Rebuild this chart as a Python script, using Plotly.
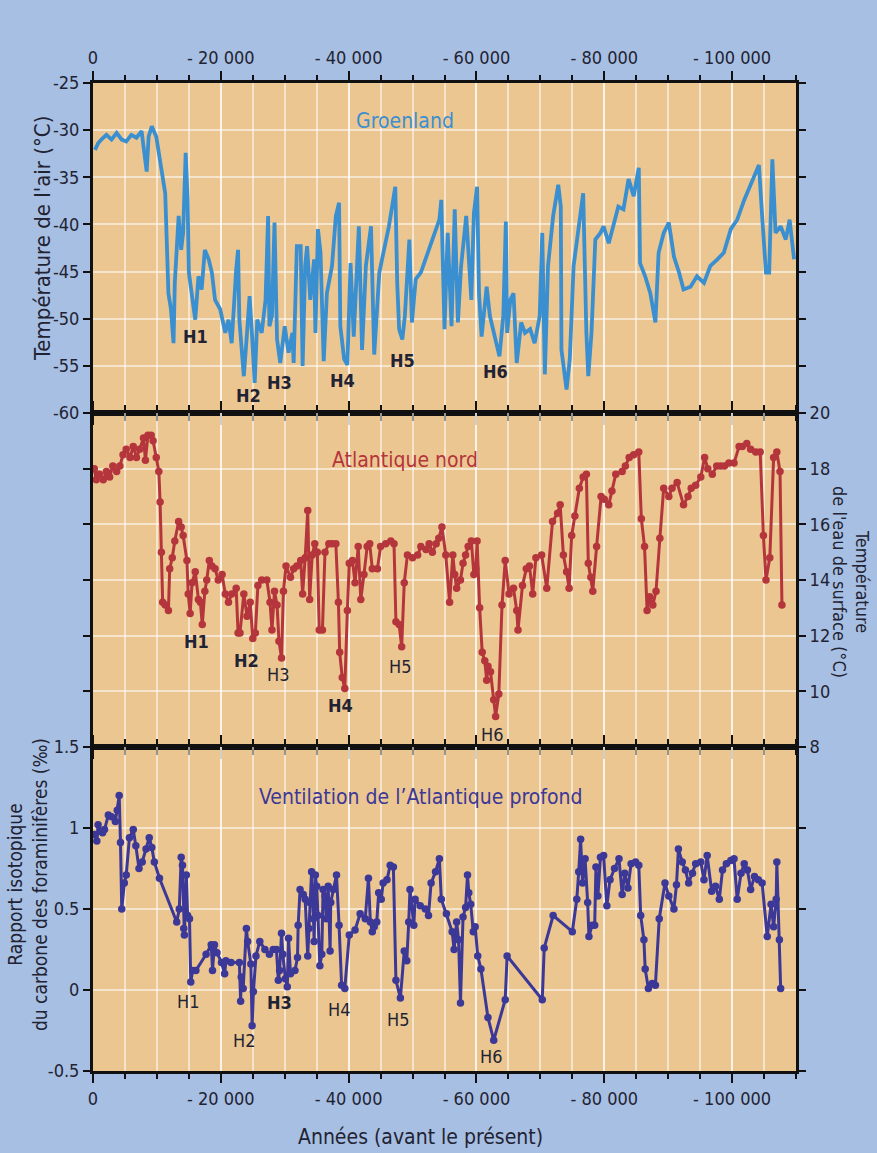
import plotly.graph_objects as go

# ---------------- data (years before present in thousands) ----------------
groen_age = [0.3, 0.8, 1.3, 2.1, 2.9, 3.7, 4.5, 5.2, 6.0, 6.8, 7.6, 8.4, 8.7, 9.2, 9.9, 10.7, 11.3, 11.5, 11.8, 12.2,
             12.6, 12.8, 13.4, 13.8, 14.1, 14.5, 14.8, 15.0, 15.4, 16.0, 16.5, 17.0, 17.5, 18.1, 18.6, 19.1, 19.9, 20.7,
             21.2, 21.7, 22.4, 22.7, 22.9, 23.6, 24.1, 24.5, 24.9, 25.3, 25.7, 26.4, 27.0, 27.4, 27.6, 28.0, 28.4, 28.8,
             29.3, 30.0, 30.6, 31.2, 31.4, 31.9, 32.5, 32.8, 33.2, 33.5, 34.0, 34.6, 34.8, 35.2, 35.6, 36.1, 36.6, 37.4,
             38.0, 38.5, 38.7, 39.3, 39.8, 40.3, 40.8, 41.6, 42.1, 42.7, 43.5, 44.0, 44.8, 45.5, 46.3, 47.3, 47.6, 47.9,
             48.4, 48.8, 49.5, 49.9, 50.5, 51.3, 52.4, 54.2, 54.5, 55.0, 55.5, 56.1, 56.6, 57.1, 57.6, 58.4, 59.2, 59.6,
             60.1, 60.4, 60.8, 61.6, 62.1, 62.9, 63.6, 64.2, 64.6, 64.8, 65.3, 65.8, 66.3, 67.0, 67.6, 68.4, 69.1, 69.9,
             70.3, 70.7, 71.2, 72.0, 72.8, 73.2, 73.3, 74.1, 74.6, 75.2, 75.9, 76.7, 77.2, 77.5, 78.0, 78.6, 79.4, 79.9,
             80.7, 81.4, 82.2, 83.0, 83.8, 84.6, 85.4, 85.6, 86.4, 87.2, 88.0, 88.5, 89.3, 90.1, 90.9, 91.7, 92.4, 93.5,
             94.5, 95.6, 96.6, 97.7, 98.7, 99.8, 100.8, 101.9, 103.2, 104.2, 104.7, 105.3, 105.8, 106.3, 106.8, 107.6,
             108.4, 109.0, 109.7]
groen_temp = [-32.1, -31.4, -31.0, -30.5, -31.0, -30.3, -31.0, -31.2, -30.5, -30.8, -30.1, -34.4, -30.7, -29.6, -30.7,
              -34.5, -36.7, -40.9, -47.3, -49.0, -52.6, -46.2, -39.1, -42.7, -40.9, -32.4, -37.4, -45.1, -46.9, -50.1,
              -45.5, -46.9, -42.7, -43.7, -45.1, -48.0, -49.0, -51.5, -50.1, -52.6, -44.8, -42.7, -50.1, -56.1, -51.5,
              -47.6, -51.9, -56.8, -50.1, -51.5, -48.0, -39.1, -50.8, -49.7, -39.8, -52.2, -54.7, -50.8, -53.6, -51.5,
              -54.7, -42.3, -42.3, -55.0, -44.4, -42.3, -48.0, -43.7, -51.5, -40.5, -43.0, -54.5, -47.3, -44.4, -39.1,
              -37.7, -50.8, -54.3, -54.9, -44.1, -51.9, -40.2, -53.3, -44.4, -40.2, -53.8, -45.1, -43.0, -40.2, -36.0,
              -46.2, -51.1, -52.2, -49.7, -41.6, -50.4, -45.8, -45.1, -43.0, -39.5, -37.4, -51.1, -40.9, -50.8, -38.4,
              -50.4, -44.4, -39.1, -48.0, -38.8, -36.0, -47.3, -51.9, -46.6, -49.7, -52.2, -54.0, -49.7, -39.7, -51.5,
              -48.0, -47.3, -54.7, -50.4, -51.5, -51.1, -52.6, -49.7, -40.9, -55.9, -44.4, -39.1, -35.8, -38.1, -53.3,
              -57.5, -54.3, -44.4, -40.9, -36.7, -51.5, -56.1, -51.5, -41.6, -40.9, -40.2, -42.0, -40.2, -38.1, -38.4,
              -35.2, -37.0, -34.0, -44.1, -45.5, -47.3, -50.4, -43.0, -40.9, -39.8, -43.4, -45.1, -46.9, -46.6, -45.5,
              -46.2, -44.4, -43.7, -43.0, -40.5, -39.5, -37.4, -35.2, -33.7, -39.1, -45.1, -45.1, -33.1, -40.9, -40.2,
              -41.6, -39.5, -43.7]

atl_age = [0.2, 0.5, 1.0, 1.6, 2.1, 2.6, 3.1, 3.7, 4.2, 4.7, 5.2, 5.8, 6.3, 6.8, 7.3, 7.9, 8.2, 8.6, 9.1, 9.4, 9.9, 10.3,
           10.5, 10.7, 10.9, 11.3, 11.8, 12.0, 12.4, 12.8, 13.4, 13.8, 14.1, 14.7, 14.9, 15.2, 15.5, 16.0, 16.5, 16.8,
           17.1, 17.5, 17.8, 18.2, 18.6, 19.1, 19.6, 20.2, 20.7, 21.2, 21.7, 22.4, 22.7, 23.0, 23.6, 24.1, 24.6, 25.0,
           25.4, 25.8, 26.4, 27.2, 27.7, 28.0, 28.4, 28.8, 29.1, 29.5, 29.8, 30.2, 30.9, 31.4, 31.9, 32.5, 32.8, 33.2,
           33.6, 33.9, 34.3, 34.7, 35.1, 35.4, 35.9, 36.3, 36.9, 37.4, 38.0, 38.4, 38.6, 39.0, 39.4, 39.8, 40.1, 40.6,
           41.0, 41.5, 41.9, 42.4, 42.9, 43.3, 43.7, 44.5, 45.0, 45.8, 46.6, 47.1, 47.4, 47.9, 48.3, 48.7, 49.2, 50.0,
           50.8, 51.3, 52.1, 52.6, 53.1, 53.7, 54.1, 54.6, 55.2, 55.8, 56.3, 56.6, 56.9, 57.5, 57.9, 58.3, 58.7, 59.2,
           59.6, 59.9, 60.1, 60.5, 60.9, 61.3, 61.6, 61.8, 62.2, 62.7, 63.0, 63.5, 64.0, 64.5, 65.1, 65.8, 66.3, 66.5,
           67.2, 67.8, 68.3, 68.8, 69.3, 70.2, 71.0, 71.9, 72.7, 73.1, 73.6, 74.1, 74.5, 74.9, 75.4, 76.1, 76.7, 77.2,
           77.5, 77.9, 78.2, 78.8, 79.5, 80.0, 80.7, 81.2, 81.8, 82.8, 83.3, 83.9, 84.6, 85.4, 85.8, 86.3, 86.7, 87.1,
           87.6, 88.1, 88.7, 89.3, 90.1, 90.6, 91.4, 92.4, 93.1, 93.6, 94.3, 95.1, 95.7, 96.2, 96.9, 97.6, 98.2, 98.8,
           99.5, 100.3, 101.1, 101.6, 102.3, 102.9, 103.7, 104.4, 104.9, 105.3, 105.9, 106.5, 107.0, 107.5, 107.8]
atl_sst = [18.0, 17.6, 17.8, 17.6, 17.9, 17.7, 18.1, 17.9, 18.1, 18.5, 18.7, 18.4, 18.8, 18.4, 18.7, 19.1, 18.3, 19.2,
           19.2, 19.0, 18.4, 17.9, 16.8, 15.0, 13.2, 13.1, 12.9, 14.4, 14.8, 15.4, 16.1, 15.9, 15.6, 14.7, 13.5, 12.8,
           13.9, 14.3, 13.3, 13.2, 12.4, 13.6, 14.0, 14.7, 14.5, 14.4, 14.0, 14.2, 13.5, 13.2, 13.5, 13.7, 12.1, 12.1,
           13.5, 12.7, 13.2, 11.9, 12.1, 13.8, 14.0, 14.0, 13.2, 12.2, 13.6, 13.1, 11.8, 11.2, 13.6, 14.5, 14.1, 14.4,
           14.5, 14.7, 13.5, 14.8, 16.5, 13.3, 14.9, 15.3, 15.0, 12.2, 12.2, 15.0, 15.3, 15.3, 15.3, 13.2, 11.4, 10.5,
           10.1, 12.9, 14.6, 14.7, 13.9, 15.2, 13.3, 14.2, 15.2, 15.3, 14.4, 14.4, 15.2, 15.3, 15.4, 15.3, 12.5, 12.4,
           11.6, 13.9, 14.9, 14.8, 14.9, 15.2, 15.1, 15.3, 15.0, 15.3, 15.5, 15.9, 14.9, 13.2, 14.9, 14.2, 13.7, 14.0,
           14.6, 14.9, 15.2, 15.4, 14.2, 14.4, 15.4, 13.0, 11.4, 11.1, 10.4, 10.9, 10.7, 9.7, 9.1, 9.9, 13.1, 14.7, 13.5,
           13.7, 12.9, 12.2, 13.8, 14.4, 14.5, 13.5, 14.8, 14.9, 13.7, 16.1, 16.4, 16.7, 14.9, 14.3, 13.7, 15.6, 16.3,
           17.3, 17.7, 17.8, 14.6, 14.1, 13.6, 15.2, 17.0, 16.9, 16.7, 17.2, 17.8, 17.9, 18.1, 18.4, 18.5, 18.6, 16.2,
           15.2, 12.9, 13.4, 13.1, 13.6, 15.5, 17.3, 17.0, 17.3, 17.5, 16.7, 17.0, 17.3, 17.4, 17.7, 18.4, 18.0, 17.8,
           18.1, 18.1, 18.1, 18.2, 18.2, 18.8, 18.8, 18.9, 18.7, 18.6, 18.6, 15.6, 14.0, 14.8, 18.4, 18.6, 17.9, 13.1]

vent_age = [0.3, 0.6, 0.8, 1.2, 1.5, 1.8, 2.4, 2.9, 3.5, 3.8, 4.1, 4.3, 4.5, 4.9, 5.2, 5.7, 6.3, 6.7, 7.2, 7.7, 8.3,
            8.8, 9.2, 9.6, 10.4, 13.1, 13.5, 13.8, 14.0, 14.2, 14.3, 14.6, 14.8, 15.1, 15.3, 15.6, 16.1, 17.7, 18.5,
            18.7, 19.0, 19.4, 20.1, 20.6, 20.8, 21.6, 22.9, 23.1, 23.2, 23.5, 24.0, 24.2, 24.7, 24.9, 25.1, 25.5, 26.1,
            26.9, 27.6, 28.2, 28.7, 29.0, 29.2, 29.5, 29.7, 30.1, 30.4, 30.6, 30.9, 31.6, 32.0, 32.1, 32.4, 32.9, 33.2,
            33.6, 33.8, 33.9, 34.2, 34.5, 34.6, 34.8, 35.0, 35.2, 35.5, 35.8, 36.0, 36.3, 36.5, 36.8, 37.1, 37.2, 37.6,
            38.1, 38.5, 38.9, 39.4, 40.1, 41.0, 41.8, 42.6, 43.1, 43.4, 43.7, 44.0, 44.4, 44.7, 45.1, 45.4, 46.0, 46.5,
            47.0, 47.4, 48.1, 48.7, 49.1, 49.4, 49.6, 50.2, 50.4, 51.2, 52.0, 52.5, 52.9, 53.6, 54.2, 54.5, 55.3, 56.2,
            56.5, 56.9, 57.2, 57.5, 57.9, 58.3, 58.6, 58.8, 59.1, 59.5, 59.8, 60.2, 60.7, 61.8, 62.7, 64.5, 64.8, 70.3,
            70.6, 72.0, 75.0, 75.7, 76.0, 76.3, 76.6, 77.0, 77.4, 77.6, 78.1, 78.5, 78.7, 79.0, 79.4, 79.9, 80.4, 80.9,
            81.6, 82.3, 82.8, 83.2, 83.7, 84.2, 84.9, 85.4, 85.7, 86.2, 86.4, 86.9, 87.5, 88.0, 88.6, 89.5, 90.1, 90.9,
            91.3, 91.6, 92.2, 92.7, 93.2, 93.8, 94.3, 95.1, 95.6, 96.1, 96.8, 97.4, 98.0, 98.5, 99.1, 99.8, 100.3, 100.8,
            101.4, 101.9, 102.4, 102.9, 103.5, 104.1, 104.7, 105.5, 106.1, 106.5, 106.9, 107.0, 107.4, 107.6]
vent_d13c = [0.96, 0.92, 1.02, 0.98, 0.97, 0.99, 1.08, 1.07, 1.04, 1.11, 1.20, 0.91, 0.50, 0.66, 0.71, 0.94, 0.99, 0.89,
             0.75, 0.79, 0.87, 0.94, 0.88, 0.79, 0.69, 0.42, 0.50, 0.82, 0.77, 0.38, 0.34, 0.71, 0.46, 0.44, 0.05, 0.12,
             0.12, 0.22, 0.28, 0.12, 0.28, 0.23, 0.17, 0.10, 0.18, 0.17, 0.17, -0.07, 0.08, 0.01, 0.38, 0.30, 0.16,
             -0.22, -0.01, 0.21, 0.30, 0.25, 0.22, 0.25, 0.25, 0.06, 0.12, 0.35, 0.22, 0.07, 0.02, 0.32, 0.10, 0.12, 0.20,
             0.40, 0.62, 0.59, 0.56, 0.21, 0.38, 0.54, 0.73, 0.44, 0.30, 0.71, 0.64, 0.46, 0.15, 0.22, 0.62, 0.58, 0.44,
             0.64, 0.24, 0.54, 0.62, 0.71, 0.40, 0.03, 0.01, 0.34, 0.37, 0.47, 0.44, 0.69, 0.42, 0.36, 0.39, 0.42, 0.60,
             0.56, 0.66, 0.68, 0.77, 0.76, 0.06, -0.05, 0.24, 0.18, 0.42, 0.62, 0.40, 0.56, 0.52, 0.50, 0.46, 0.66, 0.73,
             0.81, 0.56, 0.47, 0.36, 0.25, 0.42, 0.31, -0.08, 0.45, 0.51, 0.71, 0.60, 0.53, 0.36, 0.39, 0.21, 0.13,
             -0.17, -0.31, -0.06, 0.21, -0.06, 0.26, 0.46, 0.36, 0.56, 0.73, 0.93, 0.66, 0.81, 0.54, 0.33, 0.40, 0.40,
             0.76, 0.58, 0.82, 0.83, 0.52, 0.68, 0.75, 0.81, 0.59, 0.72, 0.63, 0.78, 0.79, 0.77, 0.46, 0.31, 0.13, 0.01,
             0.04, 0.03, 0.44, 0.66, 0.58, 0.50, 0.65, 0.87, 0.79, 0.74, 0.66, 0.72, 0.78, 0.79, 0.68, 0.83, 0.61, 0.64,
             0.56, 0.74, 0.78, 0.80, 0.81, 0.56, 0.72, 0.78, 0.74, 0.62, 0.70, 0.68, 0.66, 0.33, 0.53, 0.39, 0.56, 0.79,
             0.31, 0.01]

x_tickvals = [0, -20000, -40000, -60000, -80000, -100000]
x_ticktext = ["0", "- 20 000", "- 40 000", "- 60 000", "- 80 000", "- 100 000"]
t_ticks = [-25, -30, -35, -40, -45, -50, -55, -60]
sst_ticks = [20, 18, 16, 14, 12, 10, 8]
v_ticks = [1.5, 1, 0.5, 0, -0.5]
v_ticktext = ["1.5", "1", "0.5", "0", "-0.5"]

# Heinrich event labels: (label, age kyr, value, bold)
h_top = [("H1", 16.0, -51.9, True), ("H2", 24.3, -58.1, True), ("H3", 29.2, -56.8, True),
         ("H4", 39.1, -56.5, True), ("H5", 48.4, -54.4, True), ("H6", 63.0, -55.6, True)]
h_mid = [("H1", 16.2, 11.8, True), ("H2", 24.0, 11.1, True), ("H3", 29.0, 10.6, False),
         ("H4", 38.8, 9.5, True), ("H5", 48.0, 10.9, False), ("H6", 62.5, 8.45, False)]
h_bot = [("H1", 14.8, -0.07, False), ("H2", 23.7, -0.31, False), ("H3", 29.2, -0.08, True),
         ("H4", 38.5, -0.12, False), ("H5", 47.7, -0.18, False), ("H6", 62.3, -0.41, False)]

# ---------------- styling ----------------
FONT = "Liberation Sans Narrow, DejaVu Sans Condensed, Roboto, sans-serif"
INK = "#1f2333"
BLUE = "#3a8fd0"
RED = "#b5353c"
PURPLE = "#3b3898"
BG = "#a7bfe2"
PLOT_BG = "#ecc690"
GRID = "rgba(255,255,255,0.55)"

W, H = 877, 1153
L, R, T, B = 93, 796, 83, 1071


def px(xp):
    return (xp - L) / (R - L)


def py(yp):
    return (B - yp) / (B - T)


fig = go.Figure()
fig.add_trace(go.Scatter(x=[-1000 * a for a in groen_age], y=groen_temp, mode="lines",
                         line=dict(color=BLUE, width=3.8), xaxis="x", yaxis="y", showlegend=False))
fig.add_trace(go.Scatter(x=[-1000 * a for a in atl_age], y=atl_sst, mode="lines+markers",
                         line=dict(color=RED, width=3), marker=dict(color=RED, size=7.5),
                         xaxis="x2", yaxis="y2", showlegend=False))
fig.add_trace(go.Scatter(x=[-1000 * a for a in vent_age], y=vent_d13c, mode="lines+markers",
                         line=dict(color=PURPLE, width=3), marker=dict(color=PURPLE, size=7.5),
                         xaxis="x3", yaxis="y3", showlegend=False))

d_bot = 324 / 988
d_mid = (324 + 334) / 988

xcommon = dict(range=[0, -110000], tickvals=x_tickvals, ticktext=x_ticktext, showline=True,
               linecolor="#111", linewidth=3, mirror="ticks", ticks="outside", ticklen=9, tickwidth=2,
               tickcolor="#111", showgrid=True, gridcolor=GRID, gridwidth=1.5, zeroline=False,
               tickfont=dict(family=FONT, size=18, color=INK),
               minor=dict(dtick=5000, tick0=0, ticks="outside", ticklen=5, tickwidth=2, tickcolor="#111",
                          showgrid=True, gridcolor=GRID, gridwidth=1.5))
ycommon = dict(showline=True, linecolor="#111", linewidth=3, mirror="ticks", ticks="outside", ticklen=7,
               tickwidth=2, tickcolor="#111", showgrid=True, gridcolor=GRID, gridwidth=1.5, zeroline=False,
               tickfont=dict(family=FONT, size=18, color=INK))

fig.update_layout(
    width=W, height=H,
    margin=dict(l=L, r=W - R, t=T, b=H - B),
    paper_bgcolor=BG, plot_bgcolor=PLOT_BG,
    xaxis=dict(xcommon, anchor="y", side="top", showticklabels=True),
    xaxis2=dict(xcommon, anchor="y2", matches="x", showticklabels=False),
    xaxis3=dict(xcommon, anchor="y3", matches="x", showticklabels=True, side="bottom"),
    yaxis=dict(ycommon, domain=[d_mid, 1], range=[-60, -25], tickvals=t_ticks,
               ticktext=[str(v) for v in t_ticks], anchor="x", side="left"),
    yaxis2=dict(ycommon, domain=[d_bot, d_mid], range=[8, 20], tickvals=sst_ticks,
                ticktext=[str(v) for v in sst_ticks], anchor="x2", side="right"),
    yaxis3=dict(ycommon, domain=[0, d_bot], range=[-0.5, 1.5], tickvals=v_ticks,
                ticktext=v_ticktext, anchor="x3", side="left"),
)

ann = []
for lab, a, v, b in h_top:
    ann.append(dict(text=f"<b>{lab}</b>" if b else lab, x=-1000 * a, y=v, xref="x", yref="y"))
for lab, a, v, b in h_mid:
    ann.append(dict(text=f"<b>{lab}</b>" if b else lab, x=-1000 * a, y=v, xref="x2", yref="y2"))
for lab, a, v, b in h_bot:
    ann.append(dict(text=f"<b>{lab}</b>" if b else lab, x=-1000 * a, y=v, xref="x3", yref="y3"))
for d in ann:
    d.update(showarrow=False, xanchor="center", yanchor="middle",
             font=dict(family=FONT, size=18, color=INK))
    fig.add_annotation(**d)


def label(text, xp, yp, color, size, angle=0):
    fig.add_annotation(text=text, x=px(xp), y=py(yp), xref="paper", yref="paper", showarrow=False,
                       xanchor="center", yanchor="middle", align="center", textangle=angle,
                       font=dict(family=FONT, size=size, color=color))


# series names
label("Groenland", 405, 121, BLUE, 21)
label("Atlantique nord", 405, 460, RED, 21)
label("Ventilation de l’Atlantique profond", 420, 797, PURPLE, 21)

# axis titles
label("Température de l'air (°C)", 42, 239, INK, 22, -90)
label("Température<br>de l'eau de surface (°C)", 851, 582, INK, 18, 90)
label("Rapport isotopique<br>du carbone des foraminifères (‰)", 27, 885, INK, 19, -90)
label("Années (avant le présent)", 420, 1137, INK, 21)

fig.write_html("out.html")
